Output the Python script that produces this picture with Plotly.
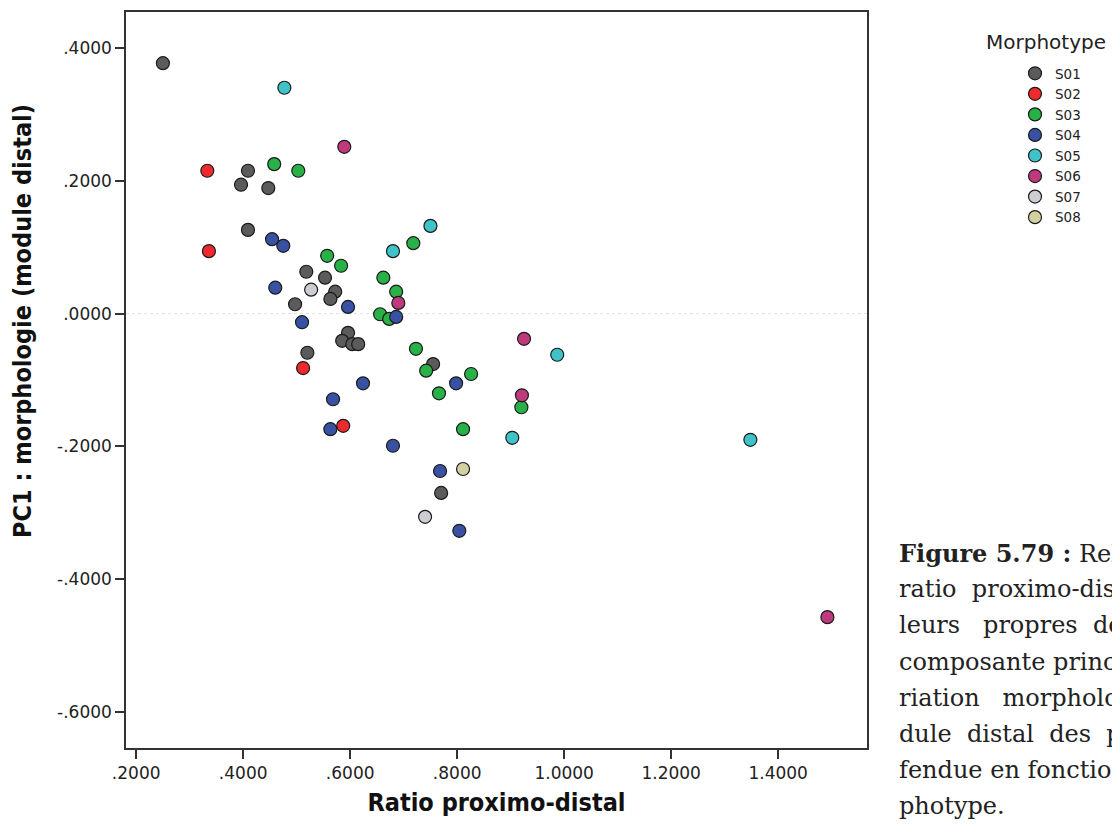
import plotly.graph_objects as go

# ---- data ----
groups = ["S01", "S02", "S03", "S04", "S05", "S06", "S07", "S08"]

s01_x = [0.250, 0.409, 0.396, 0.447, 0.409, 0.518, 0.553, 0.572, 0.563, 0.497, 0.596, 0.585, 0.604, 0.615, 0.520, 0.755, 0.770]
s01_y = [0.377, 0.215, 0.194, 0.189, 0.126, 0.063, 0.054, 0.033, 0.022, 0.014, -0.029, -0.041, -0.046, -0.046, -0.059, -0.076, -0.270]

s02_x = [0.333, 0.336, 0.512, 0.587]
s02_y = [0.215, 0.094, -0.082, -0.169]

s03_x = [0.458, 0.503, 0.557, 0.583, 0.718, 0.662, 0.686, 0.656, 0.673, 0.723, 0.742, 0.826, 0.766, 0.920, 0.811]
s03_y = [0.225, 0.215, 0.087, 0.072, 0.106, 0.054, 0.033, -0.001, -0.008, -0.053, -0.086, -0.091, -0.120, -0.141, -0.174]

s04_x = [0.454, 0.475, 0.460, 0.596, 0.510, 0.686, 0.624, 0.568, 0.798, 0.563, 0.680, 0.768, 0.804]
s04_y = [0.112, 0.102, 0.039, 0.010, -0.013, -0.005, -0.105, -0.129, -0.105, -0.174, -0.199, -0.237, -0.327]

s05_x = [0.477, 0.750, 0.680, 0.987, 0.903, 1.348]
s05_y = [0.340, 0.132, 0.094, -0.062, -0.187, -0.190]

s06_x = [0.589, 0.690, 0.925, 0.921, 1.492]
s06_y = [0.251, 0.016, -0.038, -0.123, -0.457]

s07_x = [0.527, 0.740]
s07_y = [0.036, -0.306]

s08_x = [0.811]
s08_y = [-0.234]

x_tick_vals = [0.2, 0.4, 0.6, 0.8, 1.0, 1.2, 1.4]
x_tick_text = [".2000", ".4000", ".6000", ".8000", "1.0000", "1.2000", "1.4000"]
y_tick_vals = [0.4, 0.2, 0.0, -0.2, -0.4, -0.6]
y_tick_text = [".4000", ".2000", ".0000", "-.2000", "-.4000", "-.6000"]

x_title = "Ratio proximo-distal"
y_title = "PC1 : morphologie (module distal)"
legend_title = "Morphotype"

NB = "\u00a0"
caption_lines = [
    "<b>Figure 5.79 :</b> Rel",
    "ratio" + NB * 2 + "proximo-dis",
    "leurs" + NB * 3 + "propres" + NB * 2 + "de",
    "composante princ",
    "riation" + NB * 3 + "morpholo",
    "dule" + NB * 2 + "distal" + NB * 2 + "des" + NB * 2 + "p",
    "fendue en fonctio",
    "photype.",
]

# ---- styling ----
colors = ["#5b5b5b", "#ee2a2e", "#27b147", "#3951a3", "#3fc3c9", "#bf3a7d", "#cdcdd2", "#d3d1a2"]
xs = [s01_x, s02_x, s03_x, s04_x, s05_x, s06_x, s07_x, s08_x]
ys = [s01_y, s02_y, s03_y, s04_y, s05_y, s06_y, s07_y, s08_y]

# the page body adds an 8px offset; size and margins compensate for it
W, H = 1112, 820
L, T = 118, 4
PW, PH = 741, 736
R = W - L - PW
B = H - T - PH

fig = go.Figure()
for name, c, x, y in zip(groups, colors, xs, ys):
    fig.add_trace(go.Scatter(
        x=x, y=y, mode="markers", name=name,
        marker=dict(size=13, color=c, line=dict(color="#1a1a1a", width=1.2)),
    ))

fig.add_shape(type="line", xref="paper", yref="y", x0=0, x1=1, y0=0, y1=0,
              line=dict(color="#e0e0e0", width=1, dash="dot"), layer="below")

tick_font = dict(family="DejaVu Sans", size=17, color="#222")
title_font = dict(family="DejaVu Sans Condensed, DejaVu Sans", size=25, color="#111")
fig.update_xaxes(
    range=[0.181, 1.566], tickvals=x_tick_vals, ticktext=x_tick_text,
    showgrid=False, zeroline=False, showline=True, mirror=True,
    linecolor="#333", linewidth=1.5, ticks="outside", ticklen=9, tickwidth=1.5, tickcolor="#333",
    tickfont=tick_font,
    title=dict(text="<b>" + x_title + "</b>", font=title_font, standoff=11),
)
fig.update_yaxes(
    range=[-0.654, 0.454], tickvals=y_tick_vals, ticktext=y_tick_text,
    showgrid=False, zeroline=False, showline=True, mirror=True,
    linecolor="#333", linewidth=1.5, ticks="outside", ticklen=9, tickwidth=1.5, tickcolor="#333",
    tickfont=tick_font,
)

# y-axis title (placed as in the reference, a little above the plot centre)
fig.add_annotation(
    xref="paper", yref="paper", x=(14 - L) / PW, y=1 - (313 - T) / PH,
    text="<b>" + y_title + "</b>", textangle=-90, showarrow=False,
    xanchor="center", yanchor="middle", font=title_font,
)

# legend title
fig.add_annotation(
    xref="paper", yref="paper", x=(976 - L) / PW, y=1 - (34 - T) / PH,
    text=legend_title, showarrow=False, xanchor="left", yanchor="middle",
    font=dict(family="DejaVu Sans", size=20, color="#222"),
)

for i, line in enumerate(caption_lines):
    fy = 545 + 36.2 * i
    fig.add_annotation(
        xref="paper", yref="paper",
        x=(889 - L) / PW, y=1 - (fy - T) / PH,
        text=line, showarrow=False, xanchor="left", yanchor="middle",
        font=dict(family="DejaVu Serif", size=24, color="#222"),
    )

fig.update_layout(
    width=W, height=H,
    margin=dict(l=L, r=R, t=T, b=B, autoexpand=False),
    paper_bgcolor="white", plot_bgcolor="white",
    showlegend=True,
    legend=dict(
        x=(981 - L) / PW, y=1 - (50 - T) / PH, xanchor="left", yanchor="top",
        font=dict(family="DejaVu Sans", size=13.5, color="#222"),
        tracegroupgap=0, itemwidth=30, indentation=26, bgcolor="rgba(0,0,0,0)",
    ),
)

fig.write_html("out.html")
